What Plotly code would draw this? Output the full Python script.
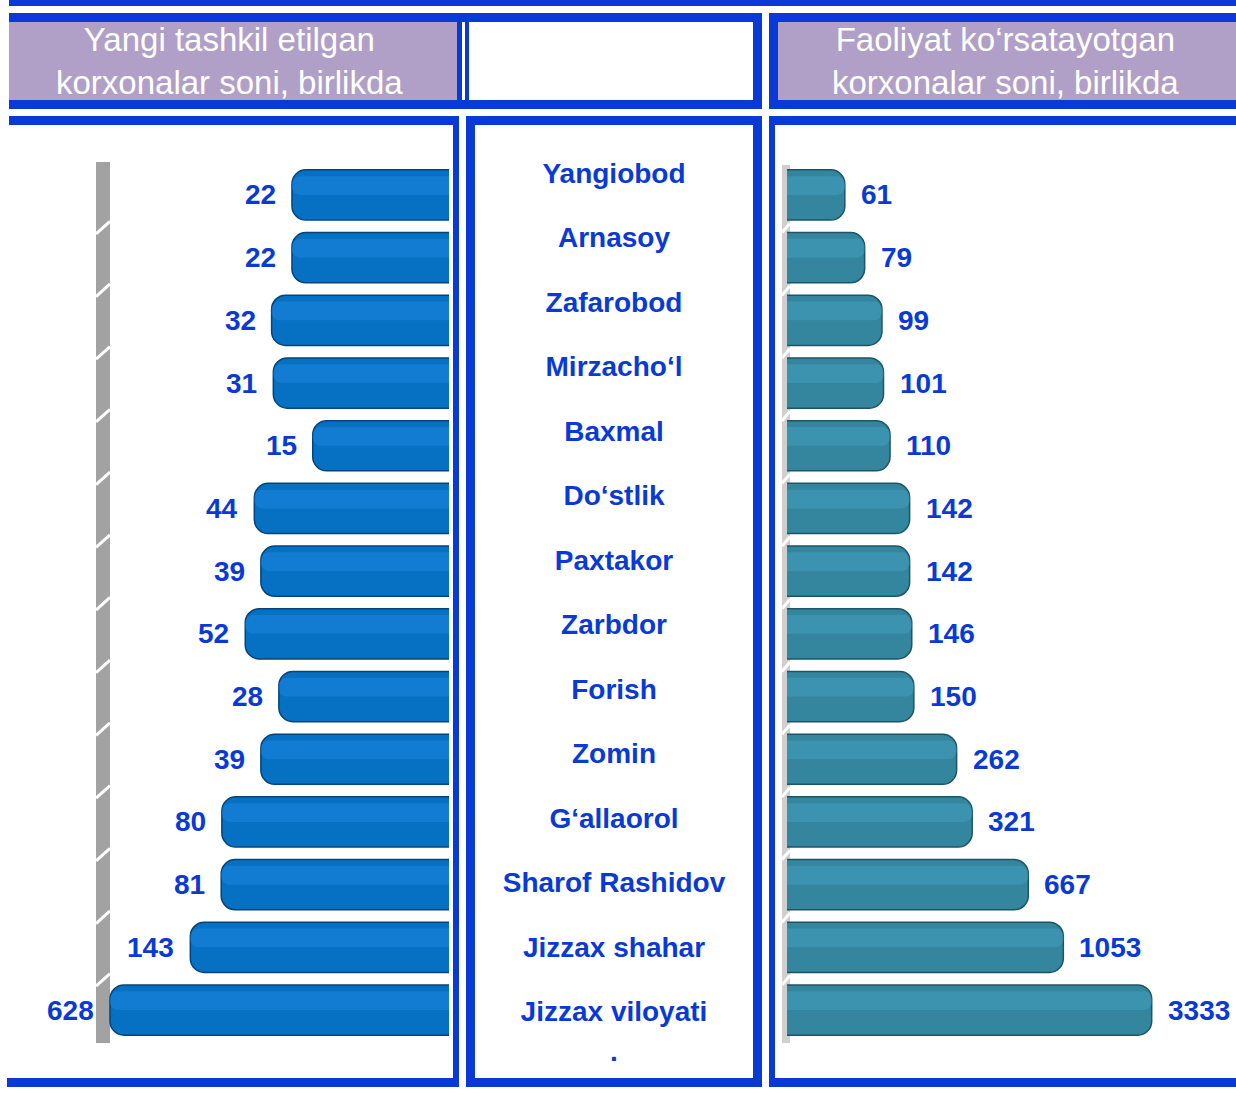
import numpy as np
import plotly.graph_objects as go

# Districts of Jizzax region, top to bottom
regions = [
    "Yangiobod", "Arnasoy", "Zafarobod", "Mirzacho‘l", "Baxmal", "Do‘stlik",
    "Paxtakor", "Zarbdor", "Forish", "Zomin", "G‘allaorol", "Sharof Rashidov",
    "Jizzax shahar", "Jizzax viloyati",
]
# Newly established enterprises, units
new_enterprises = [22, 22, 32, 31, 15, 44, 39, 52, 28, 39, 80, 81, 143, 628]
# Operating enterprises, units
active_enterprises = [61, 79, 99, 101, 110, 142, 142, 146, 150, 262, 321, 667, 1053, 3333]

left_title = "Yangi tashkil etilgan<br>korxonalar soni, birlikda"
right_title = "Faoliyat ko‘rsatayotgan<br>korxonalar soni, birlikda"

W, H = 1236, 1093
BLUE = "#0a3ad6"
HEADER = "#b0a0c8"
FONT = "Liberation Sans, Arial, sans-serif"
N = len(regions)


def px(x):
    return x / W


def py(y):
    return 1 - y / H


def rect(x0, y0, x1, y1, color, layer="below"):
    return dict(type="rect", xref="paper", yref="paper",
                x0=px(x0), x1=px(x1), y0=py(y1), y1=py(y0),
                fillcolor=color, line=dict(width=0), layer=layer)


fig = go.Figure()

# Left panel: new enterprises, bars grow to the left
fig.add_trace(go.Bar(
    y=regions, x=new_enterprises, orientation="h", xaxis="x", yaxis="y",
    width=0.8, marker=dict(color="#0670c2", cornerradius=14,
                           line=dict(color="#03457a", width=1.5)),
    hoverinfo="skip",
))
fig.add_trace(go.Bar(
    y=regions, x=new_enterprises, orientation="h", xaxis="x", yaxis="y",
    width=0.3, offset=-0.3, marker=dict(color="rgba(30,140,230,0.45)", cornerradius=8,
                                        line=dict(width=0)),
    hoverinfo="skip",
))

# Right panel: operating enterprises, bars grow to the right
fig.add_trace(go.Bar(
    y=regions, x=active_enterprises, orientation="h", xaxis="x2", yaxis="y",
    width=0.8, marker=dict(color="#33869e", cornerradius=14,
                           line=dict(color="#1d5566", width=1.5)),
    hoverinfo="skip",
))
fig.add_trace(go.Bar(
    y=regions, x=active_enterprises, orientation="h", xaxis="x2", yaxis="y",
    width=0.3, offset=-0.3, marker=dict(color="rgba(70,165,195,0.45)", cornerradius=8,
                                        line=dict(width=0)),
    hoverinfo="skip",
))

# District names in the middle column
fig.add_trace(go.Scatter(
    x=[0] * N, y=regions, xaxis="x3", yaxis="y2", mode="text",
    text=regions, textposition="middle center",
    textfont=dict(family=FONT, size=28, color=BLUE, weight="bold"),
    hoverinfo="skip",
))

annotations = []
for name, v in zip(regions, new_enterprises):
    annotations.append(dict(
        x=np.log10(v), y=name, xref="x", yref="y", text=str(v), showarrow=False,
        xanchor="right", yanchor="middle", xshift=-14,
        font=dict(family=FONT, size=28, color=BLUE, weight="bold"),
    ))
for name, v in zip(regions, active_enterprises):
    annotations.append(dict(
        x=np.log10(v), y=name, xref="x2", yref="y", text=str(v), showarrow=False,
        xanchor="left", yanchor="middle", xshift=14,
        font=dict(family=FONT, size=28, color=BLUE, weight="bold"),
    ))
# stray dot under the last district name
annotations.append(dict(
    x=0, y=regions[-1], xref="x3", yref="y2", text="<b>.</b>", showarrow=False,
    yshift=-38, font=dict(family=FONT, size=28, color=BLUE),
))
# Header captions
annotations.append(dict(
    x=px(229), y=py(61), xref="paper", yref="paper", text=left_title,
    showarrow=False, align="center", xanchor="center", yanchor="middle",
    font=dict(family=FONT, size=33, color="white"),
))
annotations.append(dict(
    x=px(1005), y=py(61), xref="paper", yref="paper", text=right_title,
    showarrow=False, align="center", xanchor="center", yanchor="middle",
    font=dict(family=FONT, size=33, color="white"),
))

shapes = [
    # top rule
    rect(9, 0, W, 6, BLUE),
    # header row
    rect(9, 13, 762, 109, BLUE),
    rect(9, 22, 457, 100, HEADER),
    rect(462, 22, 465, 100, "white"),
    rect(469, 22, 753, 100, "white"),
    rect(769, 13, W, 109, BLUE),
    rect(778, 22, W, 100, HEADER),
    # left panel frame
    rect(9, 116, 459, 125, BLUE),
    rect(453, 116, 459, 1087, BLUE),
    rect(7, 1078, 459, 1087, BLUE),
    # middle panel frame
    rect(466, 116, 762, 1087, BLUE),
    rect(475, 125, 753, 1078, "white"),
    # right panel frame
    rect(769, 116, W, 125, BLUE),
    rect(769, 116, 775, 1087, BLUE),
    rect(769, 1078, W, 1087, BLUE),
    # grey back walls
    rect(96, 162, 110, 1043, "#a2a2a2"),
    rect(782, 165, 790, 1043, "#cfcfcf"),
]
# light breaks on the back walls between rows
for k in range(N - 1):
    shapes.append(dict(type="line", xref="paper", yref="y",
                       x0=px(96), x1=px(110), y0=k + 0.62, y1=k + 0.42,
                       line=dict(color="white", width=3), layer="below"))
    shapes.append(dict(type="line", xref="paper", yref="y",
                       x0=px(782), x1=px(790), y0=k + 0.6, y1=k + 0.45,
                       line=dict(color="white", width=3), layer="below"))

fig.update_layout(
    width=W, height=H, margin=dict(l=0, r=0, t=0, b=0),
    paper_bgcolor="white", plot_bgcolor="rgba(0,0,0,0)",
    barmode="overlay", showlegend=False,
    xaxis=dict(type="log", domain=[px(97), px(449)], range=[2.902, 0.086],
               visible=False, anchor="y"),
    xaxis2=dict(type="log", domain=[px(787), 1.0], range=[1.458, 4.0],
                visible=False, anchor="y"),
    yaxis=dict(type="category", categoryorder="array", categoryarray=regions,
               range=[N - 0.5, -0.5], domain=[py(1041.4), py(163.6)],
               visible=False, anchor="x"),
    xaxis3=dict(domain=[px(475), px(753)], range=[-1, 1], visible=False, anchor="y2"),
    yaxis2=dict(type="category", categoryorder="array", categoryarray=regions,
                range=[N - 0.5, -0.5], domain=[py(1046.2), py(143.8)],
                visible=False, anchor="x3"),
    shapes=shapes, annotations=annotations,
)

fig.write_html("out.html")
